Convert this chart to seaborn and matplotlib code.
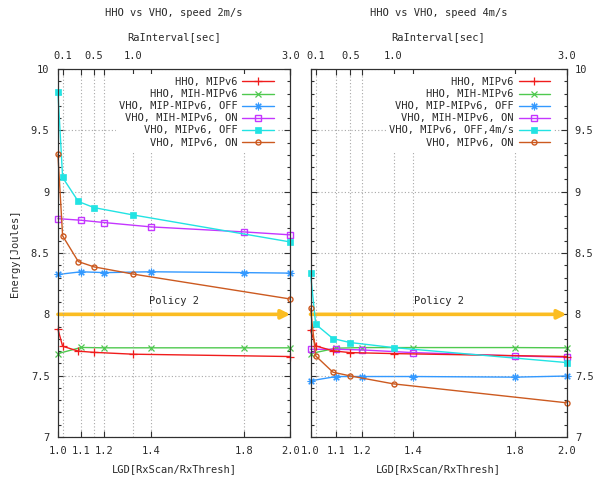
import matplotlib
matplotlib.use("Agg")
import matplotlib.pyplot as plt
from matplotlib.ticker import MultipleLocator, FixedLocator, FuncFormatter
import seaborn as sns

# ---------------- data ----------------
lgd = [1.0, 1.1, 1.2, 1.4, 1.8, 2.0]          # LGD[RxScan/RxThresh] (bottom axis)
ra = [0.04, 0.1, 0.3, 0.5, 1.0, 3.0]          # RaInterval[sec] (top axis)

lgd_ticks = [1.0, 1.1, 1.2, 1.4, 1.8, 2.0]
ra_ticks = [0.1, 0.5, 1.0, 3.0]

titles = ["HHO vs VHO, speed 2m/s", "HHO vs VHO, speed 4m/s"]

# speed 2 m/s
s2_hho_mipv6 = [7.88, 7.74, 7.70, 7.69, 7.675, 7.656]        # vs ra
s2_hho_mih = [7.68, 7.73, 7.727, 7.727, 7.727, 7.727]        # vs lgd
s2_vho_mip_off = [8.325, 8.347, 8.34, 8.347, 8.34, 8.336]    # vs lgd
s2_vho_mih_on = [8.78, 8.767, 8.748, 8.713, 8.672, 8.648]    # vs lgd
s2_vho_mipv6_off = [9.815, 9.116, 8.92, 8.87, 8.81, 8.59]    # vs ra
s2_vho_mipv6_on = [9.306, 8.64, 8.43, 8.387, 8.328, 8.125]   # vs ra

# speed 4 m/s
s4_hho_mipv6 = [7.873, 7.743, 7.702, 7.688, 7.68, 7.656]
s4_hho_mih = [7.68, 7.724, 7.729, 7.729, 7.729, 7.727]
s4_vho_mip_off = [7.458, 7.493, 7.493, 7.493, 7.488, 7.497]
s4_vho_mih_on = [7.715, 7.715, 7.71, 7.688, 7.661, 7.65]
s4_vho_mipv6_off = [8.333, 7.919, 7.802, 7.77, 7.729, 7.607]
s4_vho_mipv6_on = [8.049, 7.661, 7.528, 7.498, 7.433, 7.279]

labels_common = ["HHO, MIPv6", "HHO, MIH-MIPv6", "VHO, MIP-MIPv6, OFF",
                 "VHO, MIH-MIPv6, ON"]
label_off = ["VHO, MIPv6, OFF", "VHO, MIPv6, OFF,4m/s"]
label_on = "VHO, MIPv6, ON"

policy_label = "Policy 2"
policy_y = 8.0
policy_text_pos = (1.5, 8.11)

# ---------------- style ----------------
sns.set_style("ticks")
plt.rcParams["font.family"] = ["DejaVu Sans Mono", "DejaVu Sans"]
plt.rcParams["font.size"] = 7.5

c_red = "#f01c1c"
c_green = "#4fc94f"
c_blue = "#3399ff"
c_purple = "#c436ff"
c_cyan = "#22e3e3"
c_brown = "#cc5a20"
c_orange = "#fbbd22"
c_grid = "#a8a8a8"
c_axis = "#303030"
c_text = "#2a2a2a"

fig = plt.figure(figsize=(5.97, 4.8), dpi=100)
W, H = 597.0, 480.0
ax_boxes = [(57.9, 290.3), (310.5, 566.5)]
y_top_px, y_bot_px = 69.0, 437.0

panels = [
    (s2_hho_mipv6, s2_hho_mih, s2_vho_mip_off, s2_vho_mih_on, s2_vho_mipv6_off, s2_vho_mipv6_on),
    (s4_hho_mipv6, s4_hho_mih, s4_vho_mip_off, s4_vho_mih_on, s4_vho_mipv6_off, s4_vho_mipv6_on),
]

fmt_y = FuncFormatter(lambda v, p: f"{v:g}")

for i, (x0, x1) in enumerate(ax_boxes):
    ax = fig.add_axes([x0 / W, (H - y_bot_px) / H, (x1 - x0) / W, (y_bot_px - y_top_px) / H])
    axt = ax.twiny()
    d = panels[i]

    common = dict(linewidth=1.0, sort=False, estimator=None, clip_on=False)
    sns.lineplot(x=ra, y=d[0], ax=axt, color=c_red, marker="+", markersize=6,
                 markeredgecolor=c_red, markeredgewidth=0.9, label=labels_common[0], **common)
    sns.lineplot(x=lgd, y=d[1], ax=ax, color=c_green, marker="x", markersize=4.5,
                 markeredgecolor=c_green, markeredgewidth=0.9, label=labels_common[1], **common)
    sns.lineplot(x=lgd, y=d[2], ax=ax, color=c_blue, marker=(8, 2, 0), markersize=5.5,
                 markeredgecolor=c_blue, markeredgewidth=0.8, label=labels_common[2], **common)
    sns.lineplot(x=lgd, y=d[3], ax=ax, color=c_purple, marker="s", markersize=4.5,
                 markerfacecolor="none", markeredgecolor=c_purple, markeredgewidth=1.0,
                 label=labels_common[3], **common)
    sns.lineplot(x=ra, y=d[4], ax=axt, color=c_cyan, marker="s", markersize=4.5,
                 markerfacecolor=c_cyan, markeredgecolor=c_cyan, markeredgewidth=0.5,
                 label=label_off[i], **common)
    sns.lineplot(x=ra, y=d[5], ax=axt, color=c_brown, marker="o", markersize=3.6,
                 markerfacecolor="none", markeredgecolor=c_brown, markeredgewidth=1.0,
                 label=label_on, **common)

    # axes limits and ticks
    ax.set_xlim(lgd_ticks[0], lgd_ticks[-1])
    ax.set_ylim(7, 10)
    axt.set_xlim(ra[0], ra_ticks[-1])
    ax.xaxis.set_major_locator(FixedLocator(lgd_ticks))
    ax.xaxis.set_major_formatter(FuncFormatter(lambda v, p: f"{v:.1f}"))
    ax.yaxis.set_major_locator(MultipleLocator(0.5))
    ax.yaxis.set_minor_locator(MultipleLocator(0.1))
    ax.yaxis.set_major_formatter(fmt_y)
    axt.xaxis.set_major_locator(FixedLocator(ra_ticks))
    axt.xaxis.set_major_formatter(FuncFormatter(lambda v, p: f"{v:.1f}"))

    ax.tick_params(axis="x", which="major", direction="in", length=4.5, width=0.8,
                   top=True, bottom=True, labeltop=False, pad=6.5, colors=c_axis, labelcolor=c_text)
    ax.tick_params(axis="y", which="major", direction="in", length=4.5, width=0.8,
                   left=True, right=True, labelleft=(i == 0), labelright=(i == 1),
                   pad=6, colors=c_axis, labelcolor=c_text)
    ax.tick_params(axis="y", which="minor", direction="in", length=2.5, width=0.8,
                   left=True, right=True, colors=c_axis)
    axt.tick_params(axis="x", which="major", direction="in", length=4.5, width=0.8,
                    pad=5.5, colors=c_axis, labelcolor=c_text)

    for a in (ax, axt):
        for s in a.spines.values():
            s.set_visible(True)
            s.set_color(c_axis)
            s.set_linewidth(0.8)

    # grid
    ax.grid(True, which="major", axis="both", color=c_grid, linestyle=(0, (1, 2)), linewidth=0.8)
    axt.grid(True, which="major", axis="x", color=c_grid, linestyle=(0, (1, 2)), linewidth=0.8)
    ax.set_axisbelow(True)

    # labels and title
    ax.set_xlabel("LGD[RxScan/RxThresh]", labelpad=6, color=c_text)
    axt.set_xlabel("RaInterval[sec]", labelpad=8, color=c_text)
    if i == 0:
        ax.set_ylabel("Energy[Joules]", labelpad=8, color=c_text)
    else:
        ax.set_ylabel("")
    axt.set_title(titles[i], y=1.152, pad=0, va="center", color=c_text, fontsize=7.5)

    # policy arrow and label
    ax.annotate("", xy=(lgd_ticks[-1], policy_y), xytext=(lgd_ticks[0], policy_y),
                arrowprops=dict(arrowstyle="-|>", color=c_orange, lw=2.6,
                                mutation_scale=13, shrinkA=0, shrinkB=0),
                zorder=4)
    ax.text(policy_text_pos[0], policy_text_pos[1], policy_label, ha="center", va="center",
            color=c_text)

    # legend
    h1, l1 = ax.get_legend_handles_labels()
    h2, l2 = axt.get_legend_handles_labels()
    hmap = dict(zip(l1 + l2, h1 + h2))
    order = labels_common + [label_off[i], label_on]
    if ax.get_legend() is not None:
        ax.get_legend().remove()
    if axt.get_legend() is not None:
        axt.get_legend().remove()
    wpx = x1 - x0
    hpx = y_bot_px - y_top_px
    leg = axt.legend([hmap[k] for k in order], order, loc="upper right",
                     bbox_to_anchor=(1 - 13.5 / wpx, 1 - 5.0 / hpx), borderaxespad=0,
                     markerfirst=False, frameon=True, fancybox=False, framealpha=1,
                     facecolor="white", edgecolor="none", borderpad=0.3,
                     labelspacing=0.2, handlelength=3.0, handletextpad=0.45,
                     fontsize=7.5)
    for t in leg.get_texts():
        t.set_color(c_text)

fig.savefig("out.png", dpi=100)
